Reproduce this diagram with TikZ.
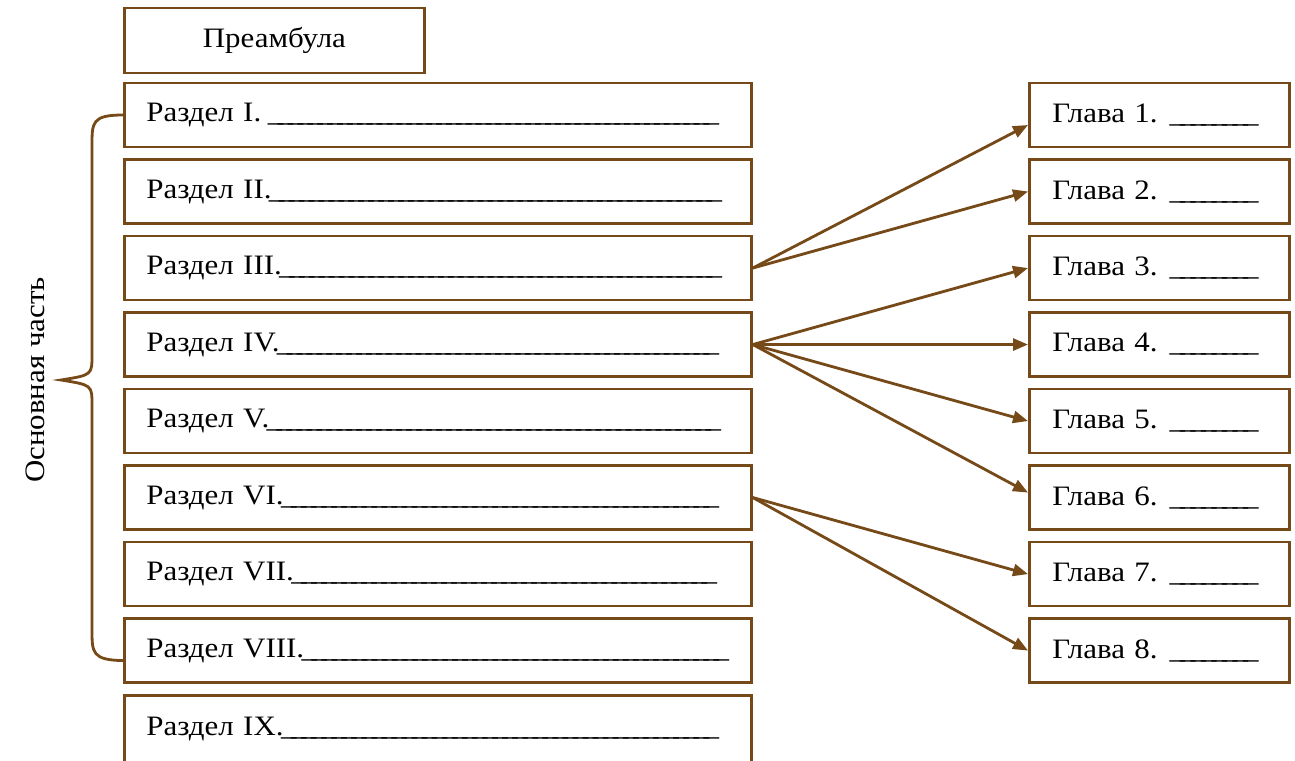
\documentclass[tikz,border=0pt]{standalone}
\usepackage{fontspec}
\setmainfont[FakeStretch=1.1]{Liberation Serif}
\usepackage{tikz}
\usetikzlibrary{positioning,calc,arrows.meta}

\definecolor{brn}{RGB}{117,74,24}
\newcommand{\blank}{\xleaders\hbox{\kern-0.1em\_\kern-0.1em}\hfill}

\begin{document}
\begin{tikzpicture}[
        box/.style={draw=brn, line width=1.6pt, rectangle, minimum height=1.28cm,
            inner xsep=0.44cm, font=\fontsize{16}{19}\selectfont},
        razdel/.style={box, minimum width=12.54cm, text width=11.66cm, align=left},
        glava/.style={box, minimum width=5.2cm, inner xsep=0.46cm, text width=4.28cm, align=left},
        link/.style={draw=brn, line width=1.6pt, -{Triangle[length=0.3cm,width=0.24cm]}},
        node distance=0.194cm
    ]
        \useasboundingbox (0,0) rectangle (25.9,-15.2);

        % Preamble
        \node[box, minimum width=6cm, minimum height=1.3cm, anchor=west] (pre) at (2.46,-0.81) {Преамбула};

        % Sections
        \node[razdel, anchor=west] (r1) at (2.46,-2.30) {\hbox to 11.4cm{Раздел I. \blank}};
        \node[razdel, below=of r1] (r2) {\hbox to 11.46cm{Раздел II.\blank}};
        \node[razdel, below=of r2] (r3) {\hbox to 11.46cm{Раздел III.\blank}};
        \node[razdel, below=of r3] (r4) {\hbox to 11.4cm{Раздел IV.\blank}};
        \node[razdel, below=of r4] (r5) {\hbox to 11.44cm{Раздел V.\blank}};
        \node[razdel, below=of r5] (r6) {\hbox to 11.4cm{Раздел VI.\blank}};
        \node[razdel, below=of r6] (r7) {\hbox to 11.36cm{Раздел VII.\blank}};
        \node[razdel, below=of r7] (r8) {\hbox to 11.6cm{Раздел VIII.\blank}};
        \node[razdel, below=of r8, minimum height=1.34cm] (r9) {\hbox to 11.4cm{Раздел IX.\blank}};

        % Chapters
        \node[glava, anchor=west] (g1) at (20.56,-2.30) {\hbox to 4.08cm{Глава 1. \blank}};
        \node[glava, below=of g1] (g2) {\hbox to 4.08cm{Глава 2. \blank}};
        \node[glava, below=of g2] (g3) {\hbox to 4.08cm{Глава 3. \blank}};
        \node[glava, below=of g3] (g4) {\hbox to 4.08cm{Глава 4. \blank}};
        \node[glava, below=of g4] (g5) {\hbox to 4.08cm{Глава 5. \blank}};
        \node[glava, below=of g5] (g6) {\hbox to 4.08cm{Глава 6. \blank}};
        \node[glava, below=of g6] (g7) {\hbox to 4.08cm{Глава 7. \blank}};
        \node[glava, below=of g7] (g8) {\hbox to 4.08cm{Глава 8. \blank}};

        % Links
        \draw[link] (r3.east) -- ([yshift=-0.2cm]g1.west);
        \draw[link] (r3.east) -- (g2.west);
        \draw[link] (r4.east) -- (g3.west);
        \draw[link] (r4.east) -- (g4.west);
        \draw[link] (r4.east) -- (g5.west);
        \draw[link] (r4.east) -- ([yshift=0.1cm]g6.west);
        \draw[link] (r6.east) -- (g7.west);
        \draw[link] (r6.east) -- (g8.west);

        % Brace
        \coordinate (bt) at (r1.west);
        \coordinate (bb) at ([yshift=-0.2cm]r8.west);
        \coordinate (tip) at (1.22,-7.6);
        \draw[brn, line width=1.6pt]
            (bt) .. controls (1.84,-2.30) and (1.84,-2.45) .. (1.84,-2.9)
            -- (1.84,-7.1) .. controls (1.84,-7.5) .. (tip)
            .. controls (1.84,-7.7) .. (1.84,-8.1)
            -- (1.84,-12.6) .. controls (1.84,-13.05) and (1.84,-13.2) .. (bb);

        \node[rotate=90, font=\fontsize{16}{19}\selectfont] (main) at (0.70,-7.6) {Основная часть};
    \end{tikzpicture}
\end{document}
